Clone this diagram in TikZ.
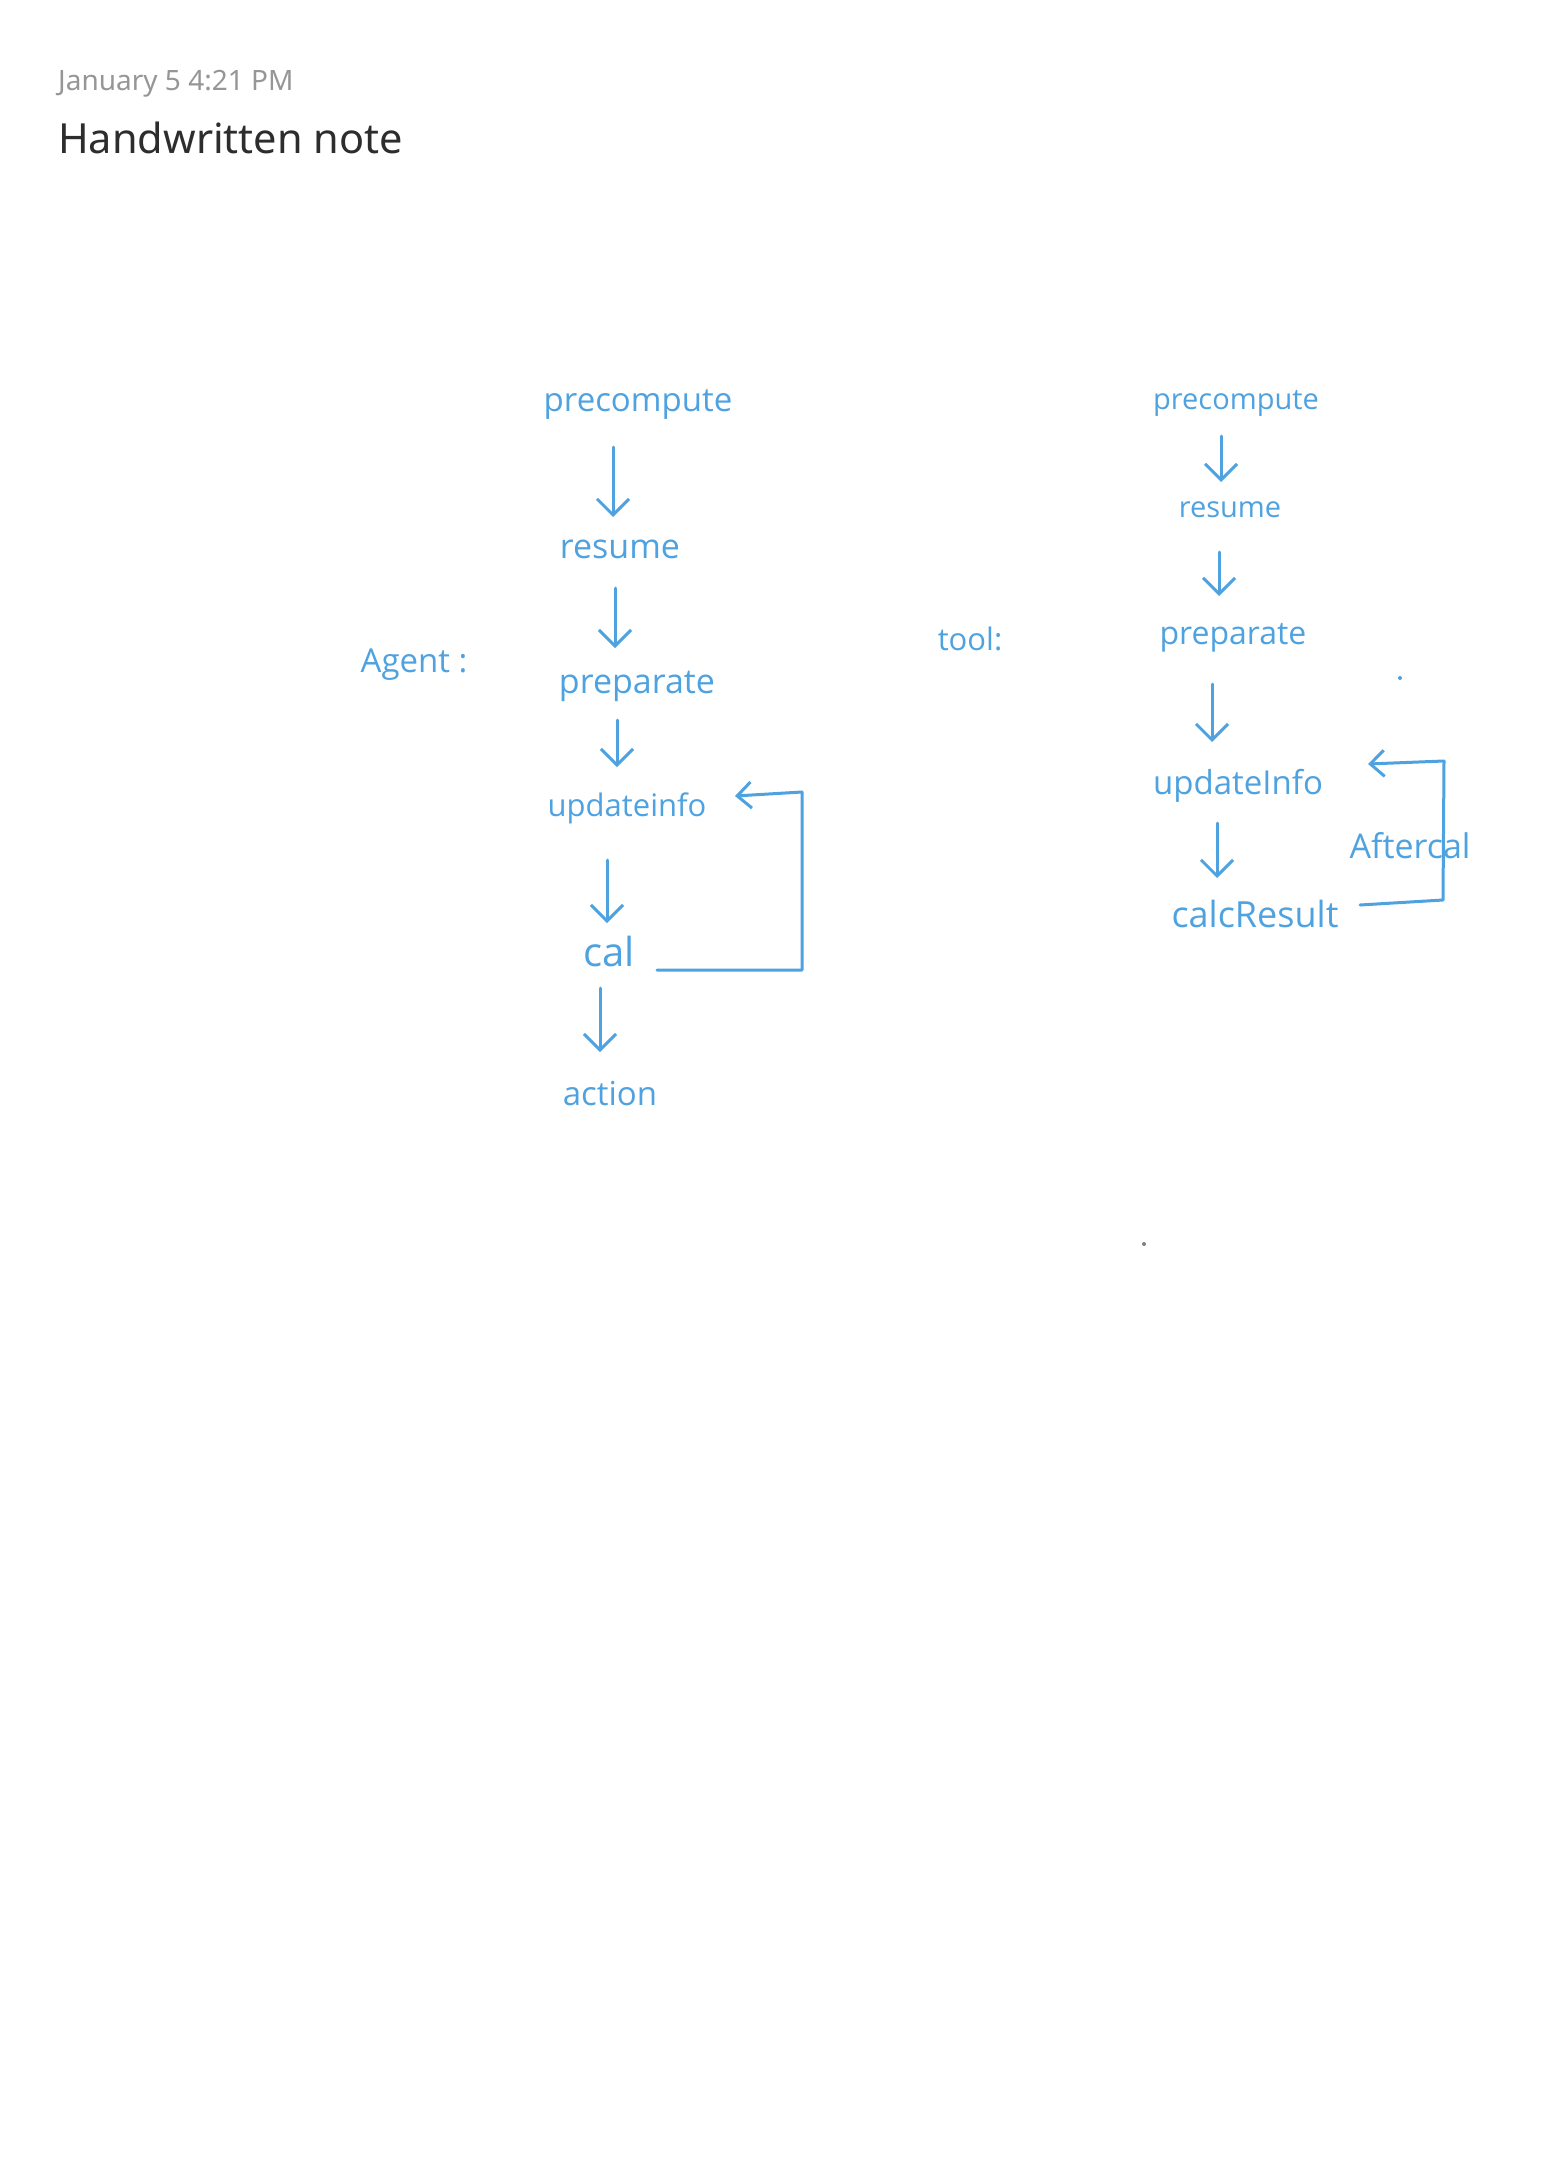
\documentclass[tikz,border=0pt]{standalone}
\usepackage{fontspec}
\setmainfont{Noto Sans}
\newfontfamily\hwfont{Open Sans}
\usetikzlibrary{arrows.meta,calc}
\definecolor{ink}{RGB}{78,162,224}
\definecolor{datec}{RGB}{150,150,150}
\definecolor{titlec}{RGB}{45,45,45}
\newcommand{\hwsize}[1]{\hwfont\fontsize{#1}{#1}\selectfont}
\tikzset{
  hwtext/.style={inner sep=0pt, text=ink, anchor=center},
  flowarrow/.style={draw=ink, line width=3pt, line cap=round, line join=round,
    -{Straight Barb[length=16pt,width=32pt,line width=3pt]}},
  loopline/.style={draw=ink, line width=3pt, line cap=round, line join=round,
    -{Straight Barb[length=14pt,width=26pt,line width=3pt]}}
}
\begin{document}
\begin{tikzpicture}[x=1pt,y=-1pt]
\fill[white] (0,0) rectangle (1564,2160);
\useasboundingbox (0,0) rectangle (1564,2160);

% header
\node[anchor=base west, inner sep=0pt, text=datec, font=\fontsize{28}{32}\selectfont] (date) at (58,90) {January 5 4:21 PM};
\node[anchor=base west, inner sep=0pt, text=titlec, font=\fontsize{41.5}{48}\selectfont] (title) at (58,153) {Handwritten note};

% left flow (Agent)
\node[hwtext, font=\hwsize{33}] (agent) at (414,665) {Agent :};
\node[hwtext, font=\hwsize{33}] (preA) at (638,405) {precompute};
\node[hwtext, font=\hwsize{34}] (resA) at (620,549) {resume};
\node[hwtext, font=\hwsize{34}] (prepA) at (637,686) {preparate};
\node[hwtext, font=\hwsize{31}] (updA) at (627,808) {updateinfo};
\node[hwtext, font=\hwsize{40}] (calA) at (609,951) {cal};
\node[hwtext, font=\hwsize{33}] (actA) at (610,1094) {action};

\draw[flowarrow] ($(preA.center)+(-25,42)$) -- ($(resA.center)+(-7,-32)$);
\draw[flowarrow] ($(resA.center)+(-5,39)$) -- ($(prepA.center)+(-22,-38)$);
\draw[flowarrow] ($(prepA.center)+(-20,34)$) -- ($(updA.center)+(-10,-41)$);
\draw[flowarrow] ($(updA.center)+(-20,52)$) -- ($(calA.center)+(-2,-28)$);
\draw[flowarrow] ($(calA.center)+(-9,37)$) -- ($(actA.center)+(-10,-42)$);

\coordinate (loopAc) at (802,792);
\coordinate (loopAtip) at (735,796);
\draw[loopline] ($(calA.center)+(48,19)$) -| (loopAc) -- (loopAtip);

% right flow (tool)
\node[hwtext, font=\hwsize{31}] (tool) at (970,639) {tool:};
\node[hwtext, font=\hwsize{29}] (preB) at (1236,403) {precompute};
\node[hwtext, font=\hwsize{29}] (resB) at (1230,510) {resume};
\node[hwtext, font=\hwsize{32}] (prepB) at (1233,638) {preparate};
\node[hwtext, font=\hwsize{33}] (updB) at (1238,786) {updateInfo};
\node[hwtext, font=\hwsize{36}] (calcB) at (1255,914) {calcResult};
\node[hwtext, font=\hwsize{34}] (after) at (1410,846) {Aftercal};

\draw[flowarrow] ($(preB.center)+(-15,33)$) -- ($(resB.center)+(-9,-28)$);
\draw[flowarrow] ($(resB.center)+(-11,42)$) -- ($(prepB.center)+(-14,-42)$);
\draw[flowarrow] ($(prepB.center)+(-21,46)$) -- ($(updB.center)+(-26,-44)$);
\draw[flowarrow] ($(updB.center)+(-21,37)$) -- ($(calcB.center)+(-38,-36)$);

\coordinate (loopBb) at (1443,900);
\coordinate (loopBc) at (1444,761);
\coordinate (loopBtip) at (1368,764);
\draw[loopline] ($(calcB.center)+(105,-9)$) -- (loopBb) -- (loopBc) -- (loopBtip);

% stray marks
\fill[ink] (1400,678) circle (2pt);
\fill[gray] (1144,1244) circle (2pt);
\end{tikzpicture}
\end{document}
